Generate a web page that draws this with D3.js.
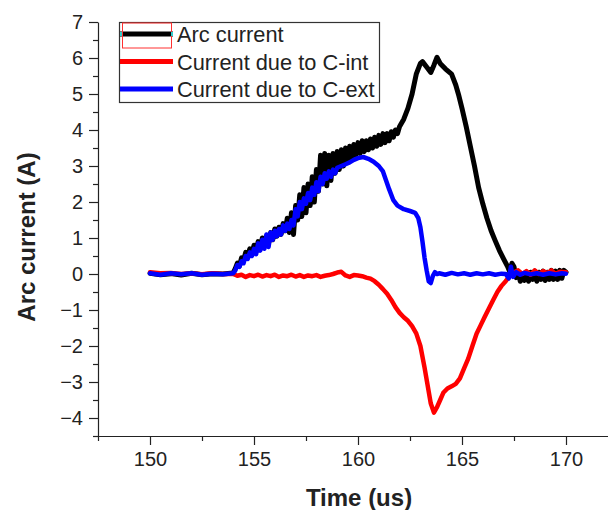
<!DOCTYPE html>
<html>
<head>
<meta charset="utf-8">
<script src="https://cdn.jsdelivr.net/npm/d3@7"></script>
<style>
  html, body { margin: 0; padding: 0; background: #fff; }
  svg text { font-family: "Liberation Sans", Arial, sans-serif; fill: #222; }
</style>
</head>
<body>
<div id="chart"></div>
<script>
// arc current vs time, three traces

// Arc current (black)
const arcT = [150.0, 150.5, 151.0, 151.5, 152.0, 152.5, 153.0, 153.5, 154.0,
  154.1, 154.2, 154.3, 154.4, 154.5, 154.6, 154.7, 154.8, 154.9, 155.0,
  155.1, 155.2, 155.3, 155.4, 155.5, 155.6, 155.7, 155.8, 155.9, 156.0,
  156.1, 156.2, 156.3, 156.4, 156.5, 156.6, 156.7, 156.8, 156.9, 157.0,
  157.1, 157.2, 157.3, 157.4, 157.5, 157.6, 157.7, 157.8, 157.9, 158.0,
  158.1, 158.2, 158.3, 158.4, 158.5, 158.6, 158.7, 158.8, 158.9, 159.0,
  159.1, 159.2, 159.3, 159.4, 159.5, 159.6, 159.7, 159.8, 159.9, 160.0,
  160.1, 160.2, 160.3, 160.4, 160.5, 160.6, 160.7, 160.8, 160.9, 161.0,
  161.1, 161.2, 161.3, 161.4, 161.5, 161.6, 161.7, 161.8, 161.9, 162.0,
  162.2, 162.4, 162.6, 162.8, 163.0, 163.1, 163.3, 163.5, 163.65, 163.8,
  163.95, 164.2, 164.5, 164.7, 164.85, 165.0, 165.2, 165.4, 165.6, 165.8,
  166.0, 166.2, 166.4, 166.6, 166.8, 167.0, 167.2, 167.3, 167.4, 167.5,
  167.6, 167.7, 167.8, 167.9, 168.0, 168.1, 168.2, 168.3, 168.4, 168.5,
  168.6, 168.7, 168.8, 168.9, 169.0, 169.1, 169.2, 169.3, 169.4, 169.5,
  169.6, 169.7, 169.8, 169.9, 170.0];
const arcI = [0.02, -0.02, 0.01, -0.03, 0.02, -0.02, 0.01, 0.0, 0.03,
  0.15, 0.3, 0.22, 0.45, 0.38, 0.6, 0.5, 0.7, 0.55, 0.8,
  0.62, 0.9, 0.7, 1.0, 0.8, 1.05, 0.85, 1.15, 0.95, 1.25,
  1.05, 1.3, 1.1, 1.4, 1.2, 1.55, 1.15, 1.7, 1.1, 1.9,
  1.5, 2.2, 1.6, 2.4, 1.7, 2.5, 1.9, 2.7, 2.0, 2.9,
  2.3, 3.3, 2.5, 3.35, 2.45, 3.3, 2.6, 3.35, 2.8, 3.4,
  2.9, 3.45, 3.0, 3.5, 3.1, 3.55, 3.2, 3.6, 3.3, 3.65,
  3.35, 3.7, 3.4, 3.7, 3.45, 3.75, 3.5, 3.8, 3.55, 3.85,
  3.6, 3.9, 3.65, 3.9, 3.7, 3.95, 3.8, 4.0, 3.9, 4.1,
  4.3, 4.6, 5.0, 5.55, 5.85, 5.9, 5.75, 5.6, 5.8, 6.02,
  5.85, 5.7, 5.55, 5.25, 4.95, 4.6, 4.1, 3.55, 3.0, 2.4,
  1.95, 1.55, 1.2, 0.92, 0.65, 0.42, 0.2, 0.05, 0.3, 0.2,
  -0.1, 0.05, -0.2, 0.0, -0.18, 0.05, -0.2, 0.05, -0.15, 0.08,
  -0.2, 0.05, -0.15, 0.08, -0.18, 0.05, -0.15, 0.1, -0.15, 0.08,
  -0.15, 0.1, -0.12, 0.1, 0.05];

// Current due to C-int (red)
const intT = [150.0, 150.5, 151.0, 151.5, 152.0, 152.5, 153.0, 153.5, 154.0,
  154.2, 154.4, 154.6, 154.8, 155.0, 155.2, 155.4, 155.6, 155.8, 156.0,
  156.2, 156.4, 156.6, 156.8, 157.0, 157.2, 157.4, 157.6, 157.8, 158.0,
  158.2, 158.4, 158.6, 158.8, 159.0, 159.2, 159.4, 159.6, 159.8, 160.0,
  160.2, 160.4, 160.6, 160.8, 161.0, 161.2, 161.4, 161.6, 161.8, 162.0,
  162.2, 162.4, 162.6, 162.8, 163.0, 163.2, 163.35, 163.5, 163.65, 163.8,
  163.95, 164.1, 164.3, 164.5, 164.7, 164.9, 165.1, 165.3, 165.5, 165.7,
  165.9, 166.1, 166.3, 166.5, 166.7, 166.9, 167.1, 167.3, 167.5, 167.7,
  167.9, 168.1, 168.3, 168.5, 168.7, 168.9, 169.1, 169.3, 169.5, 169.7, 170.0];
const intI = [0.05, 0.02, 0.03, 0.0, 0.02, -0.01, 0.02, 0.0, 0.0,
  -0.05, -0.02, -0.08, -0.03, -0.06, -0.02, -0.07, -0.03, -0.06, -0.02,
  -0.08, -0.04, -0.06, -0.02, -0.07, -0.03, -0.08, -0.04, -0.06, -0.03,
  -0.08, -0.05, -0.03, 0.0, 0.04, 0.06, -0.04, -0.08, -0.03, -0.04,
  -0.06, -0.1, -0.13, -0.2, -0.3, -0.42, -0.55, -0.72, -0.92, -1.08,
  -1.2, -1.3, -1.45, -1.65, -2.0, -2.6, -3.1, -3.6, -3.85, -3.7,
  -3.5, -3.3, -3.18, -3.12, -3.05, -2.9, -2.62, -2.35, -2.0, -1.66,
  -1.42, -1.18, -0.95, -0.72, -0.5, -0.33, -0.2, -0.05, 0.05, 0.1,
  0.0, 0.08, -0.02, 0.1, 0.0, 0.08, 0.02, 0.1, 0.0, 0.06, 0.05];

// Current due to C-ext (blue)
const extT = [150.0, 150.5, 151.0, 151.5, 152.0, 152.5, 153.0, 153.5, 154.0,
  154.1, 154.2, 154.3, 154.4, 154.5, 154.6, 154.7, 154.8, 154.9, 155.0,
  155.1, 155.2, 155.3, 155.4, 155.5, 155.6, 155.7, 155.8, 155.9, 156.0,
  156.1, 156.2, 156.3, 156.4, 156.5, 156.6, 156.7, 156.8, 156.9, 157.0,
  157.1, 157.2, 157.3, 157.4, 157.5, 157.6, 157.7, 157.8, 157.9, 158.0,
  158.1, 158.2, 158.3, 158.4, 158.5, 158.6, 158.7, 158.8, 158.9, 159.0,
  159.2, 159.4, 159.6, 159.8, 160.0, 160.25, 160.5, 160.75, 161.0, 161.2,
  161.35, 161.5, 161.7, 161.9, 162.2, 162.5, 162.75, 162.9, 163.0, 163.1,
  163.2, 163.3, 163.4, 163.5, 163.6, 163.7, 163.8, 163.9, 164.2, 164.5,
  164.8, 165.1, 165.4, 165.7, 166.0, 166.3, 166.6, 166.9, 167.1, 167.25,
  167.35, 167.45, 167.6, 167.8, 168.0, 168.3, 168.6, 168.9, 169.2, 169.5,
  169.8, 170.0];
const extI = [0.02, -0.02, 0.02, -0.01, 0.02, -0.02, 0.01, -0.01, 0.02,
  0.1, 0.25, 0.2, 0.35, 0.3, 0.5, 0.42, 0.6, 0.5, 0.7,
  0.55, 0.85, 0.65, 0.95, 0.7, 1.1, 0.75, 1.15, 0.95, 1.2,
  1.05, 1.25, 1.1, 1.35, 1.2, 1.4, 1.25, 1.5, 1.35, 1.8,
  1.6, 2.0, 1.8, 2.1, 1.95, 2.25, 2.05, 2.4, 2.2, 2.55,
  2.3, 2.7, 2.5, 2.8, 2.65, 2.85, 2.7, 2.9, 2.8, 2.95,
  3.0, 3.05, 3.1, 3.17, 3.22, 3.25, 3.2, 3.12, 3.0, 2.85,
  2.6, 2.35, 2.05, 1.9, 1.8, 1.75, 1.7, 1.55, 1.3, 0.9,
  0.45, 0.1, -0.2, -0.25, -0.05, 0.05, 0.0, 0.02, -0.02, 0.03,
  -0.01, 0.02, -0.02, 0.02, -0.01, 0.02, -0.02, 0.01, 0.0, -0.12,
  0.2, -0.08, 0.05, -0.02, 0.03, -0.01, 0.02, -0.02, 0.02, -0.01,
  0.02, 0.01];

const seriesNames = ['Arc current', 'Current due to C-int', 'Current due to C-ext'];
const seriesColors = ['#000000', '#ff0000', '#0000ff'];
const xTicks = [150, 155, 160, 165, 170];
const yTicks = [-4, -3, -2, -1, 0, 1, 2, 3, 4, 5, 6, 7];

function drawChart() {
  const width = 608, height = 510;

  const svg = d3.select('#chart')
    .append('svg')
    .attr('width', width)
    .attr('height', height);

  const x = d3.scaleLinear().domain([147.5, 172.5]).range([98, 618]);
  const y = d3.scaleLinear().domain([-4.5, 7]).range([436, 22]);

  // minor ticks first (no labels)
  svg.append('g')
    .attr('transform', `translate(0,${y(-4.5)})`)
    .call(d3.axisBottom(x).tickValues(d3.range(147.5, 172.6, 5)).tickSize(5).tickFormat(''))
    .call(g => g.select('.domain').remove());
  svg.append('g')
    .attr('transform', `translate(${x(147.5)},0)`)
    .call(d3.axisLeft(y).tickValues(d3.range(-4.5, 7, 1)).tickSize(5).tickFormat(''))
    .call(g => g.select('.domain').remove());

  // major axes
  const xAxis = svg.append('g')
    .attr('transform', `translate(0,${y(-4.5)})`)
    .call(d3.axisBottom(x).tickValues(xTicks).tickSize(9).tickSizeOuter(0).tickPadding(7));
  const yAxis = svg.append('g')
    .attr('transform', `translate(${x(147.5)},0)`)
    .call(d3.axisLeft(y).tickValues(yTicks).tickSize(9).tickSizeOuter(0).tickPadding(6));

  svg.selectAll('.tick line, .domain').attr('stroke', '#222').attr('stroke-width', 1.2);
  [xAxis, yAxis].forEach(a => a.selectAll('text')
    .attr('font-size', 20)
    .attr('font-family', '"Liberation Sans", Arial, sans-serif')
    .attr('fill', '#222'));

  // axis titles
  svg.append('text')
    .attr('x', 359)
    .attr('y', 506)
    .attr('text-anchor', 'middle')
    .attr('font-size', 24)
    .attr('font-weight', 'bold')
    .text('Time (us)');

  svg.append('text')
    .attr('transform', 'translate(35,237) rotate(-90)')
    .attr('text-anchor', 'middle')
    .attr('font-size', 24)
    .attr('font-weight', 'bold')
    .text('Arc current (A)');

  // traces
  const line = d3.line()
    .x(d => x(d[0]))
    .y(d => y(d[1]));

  const traces = [
    d3.zip(arcT, arcI),
    d3.zip(intT, intI),
    d3.zip(extT, extI)
  ];

  traces.forEach((data, i) => {
    svg.append('path')
      .datum(data)
      .attr('fill', 'none')
      .attr('stroke', seriesColors[i])
      .attr('stroke-width', i === 0 ? 5 : 4.5)
      .attr('stroke-linejoin', 'round')
      .attr('stroke-linecap', 'round')
      .attr('d', line);
  });

  // legend
  const lg = svg.append('g');
  lg.append('rect')
    .attr('x', 119.5).attr('y', 22.5)
    .attr('width', 260).attr('height', 80)
    .attr('fill', '#fff')
    .attr('stroke', '#333')
    .attr('stroke-width', 1.2);

  seriesNames.forEach((name, i) => {
    const ry = 34 + i * 27.5;
    lg.append('line')
      .attr('x1', 120).attr('x2', 173)
      .attr('y1', ry).attr('y2', ry)
      .attr('stroke', seriesColors[i])
      .attr('stroke-width', 5);
    lg.append('text')
      .attr('x', 177)
      .attr('y', ry + 8)
      .attr('font-size', 21.8)
      .text(name);
  });

  // selection box left around the first legend sample
  lg.append('rect')
    .attr('x', 122.5).attr('y', 23)
    .attr('width', 49).attr('height', 25)
    .attr('fill', 'none')
    .attr('stroke', '#ff3030')
    .attr('stroke-width', 1);
  [121, 172].forEach(cx => {
    lg.append('rect')
      .attr('x', cx - 1).attr('y', 32)
      .attr('width', 2).attr('height', 4)
      .attr('fill', '#33cccc');
  });
}

window.addEventListener('DOMContentLoaded', drawChart);
</script>
</body>
</html>
